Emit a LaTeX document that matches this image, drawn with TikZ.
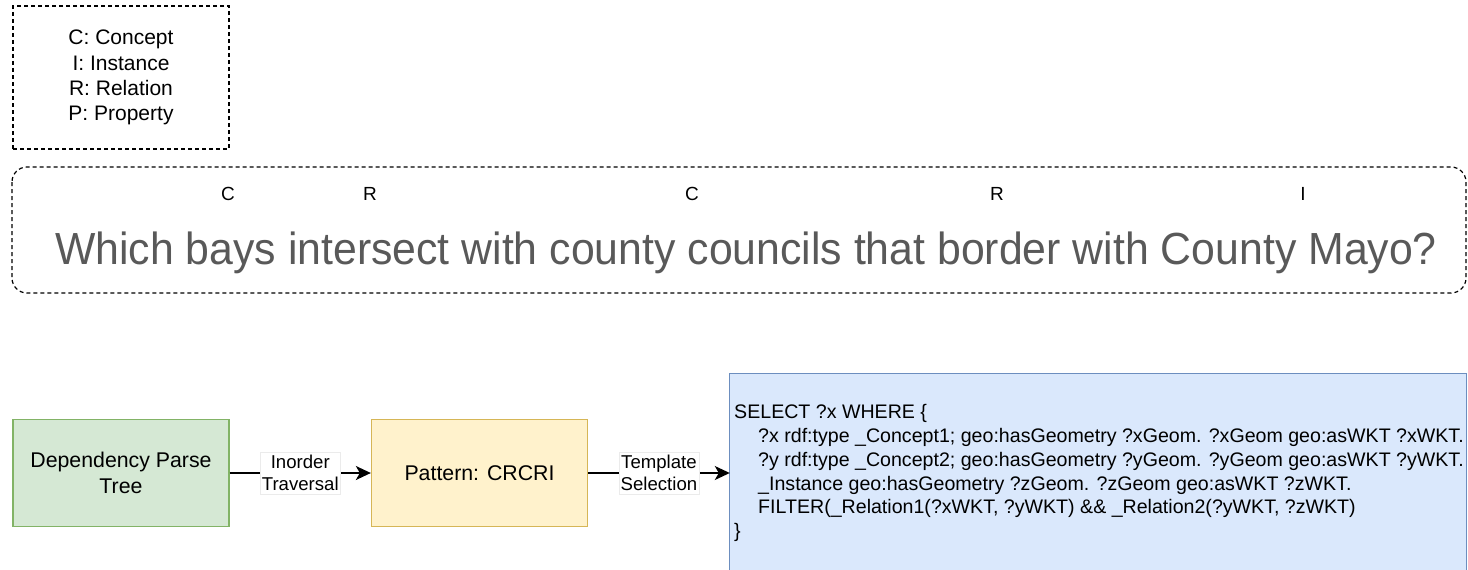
\documentclass[tikz,border=0pt]{standalone}
\usepackage{fontspec}
\setmainfont{Liberation Sans}
\usetikzlibrary{arrows.meta}
\definecolor{greenfill}{HTML}{D5E8D4}
\definecolor{greenline}{HTML}{82B366}
\definecolor{yellowfill}{HTML}{FFF2CC}
\definecolor{yellowline}{HTML}{D6B656}
\definecolor{bluefill}{HTML}{DAE8FC}
\definecolor{blueline}{HTML}{6C8EBF}
\definecolor{questiongray}{HTML}{595959}
\tikzset{
  dashedbox/.style={draw=black, line width=1.2pt, dash pattern=on 4pt off 3pt},
  stagebox/.style={minimum width=216pt, minimum height=107pt, line width=1.3pt, inner sep=0pt,
                   align=center, font=\fontsize{21.3}{25.6}\selectfont},
  edgelabel/.style={fill=white, draw=black!8, line width=0.4pt, inner xsep=1.5pt, inner ysep=3pt,
                    align=center, font=\fontsize{18.6}{22.6}\selectfont},
  flow/.style={line width=1.6pt, -{Stealth[length=15pt,width=14pt,inset=4pt]}},
  tag/.style={font=\fontsize{19}{22}\selectfont, anchor=base},
}
\begin{document}
\begin{tikzpicture}[x=1pt, y=-1pt]
\useasboundingbox (0,0) rectangle (1468,570);

% legend of the tag letters
\node[dashedbox, minimum width=216pt, minimum height=143pt, inner sep=0pt, align=center,
      font=\fontsize{21}{25.3}\selectfont] (legend) at (121,77.5)
  {C: Concept\\I: Instance\\R: Relation\\P: Property};

% question with its tags
\draw[dashedbox, rounded corners=15pt] (12,167) rectangle (1466,293);
\node[font=\fontsize{45}{54}\selectfont, text=questiongray, anchor=base, inner sep=0pt] (question) at (746,264)
  {\scalebox{0.951}[1]{Which bays intersect with county councils that border with County Mayo?}};
\node[tag] (t1) at (228,200) {C};
\node[tag] (t2) at (370,200) {R};
\node[tag] (t3) at (692,200) {C};
\node[tag] (t4) at (997,200) {R};
\node[tag] (t5) at (1303,200) {I};

% processing pipeline
\node[stagebox, fill=greenfill, draw=greenline] (tree) at (121,473) {Dependency Parse\\Tree};
\node[stagebox, fill=yellowfill, draw=yellowline] (pattern) at (479.5,473) {Pattern: CRCRI};
\node[fill=bluefill, minimum width=736pt, minimum height=197pt, inner sep=0pt] (query) at (1098,472.5) {};
\draw[blueline, line width=1.3pt] (query.south west) |- (query.north east) -- (query.south east);
\node[anchor=north west, inner sep=0pt, align=left, font=\fontsize{19.6}{23.7}\selectfont] (sparql) at (734,404.5)
  {SELECT ?x WHERE \{\\
   \hspace*{24pt}?x rdf:type \_Concept1; geo:hasGeometry ?xGeom. ?xGeom geo:asWKT ?xWKT.\\
   \hspace*{24pt}?y rdf:type \_Concept2; geo:hasGeometry ?yGeom. ?yGeom geo:asWKT ?yWKT.\\
   \hspace*{24pt}\_Instance geo:hasGeometry ?zGeom. ?zGeom geo:asWKT ?zWKT.\\
   \hspace*{24pt}FILTER(\_Relation1(?xWKT, ?yWKT) \&\& \_Relation2(?yWKT, ?zWKT)\\
   \}};

\draw[flow] (tree) -- node[edgelabel] (lab1) {Inorder\\Traversal} (pattern);
\draw[flow] (pattern) -- node[edgelabel] (lab2) {Template\\Selection} (pattern.east -| query.west);
\end{tikzpicture}
\end{document}
